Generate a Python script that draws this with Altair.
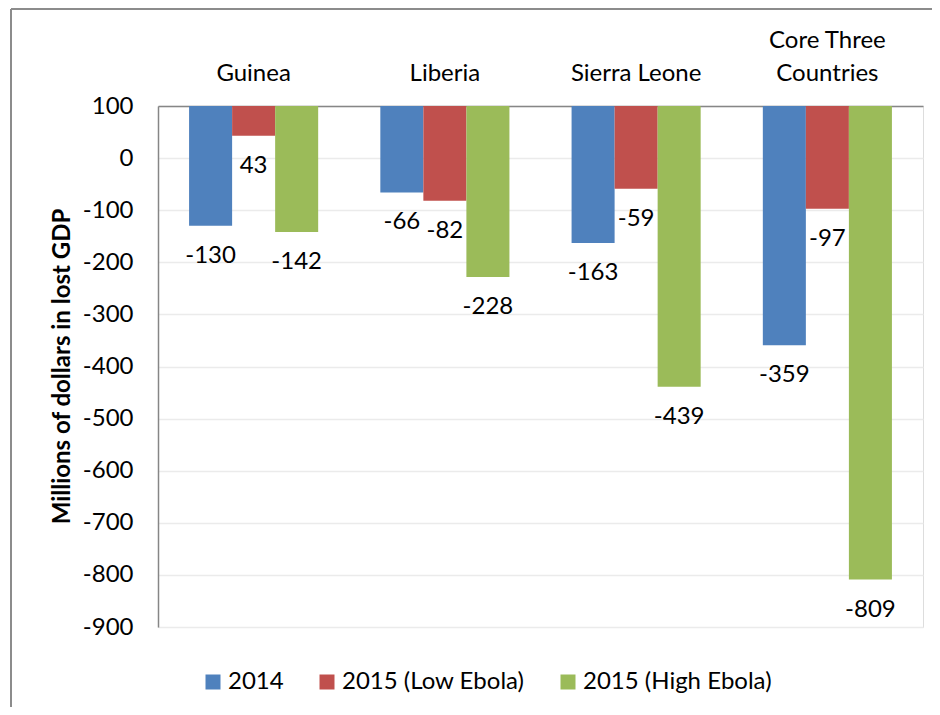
import altair as alt
import pandas as pd

countries = ["Guinea", "Liberia", "Sierra Leone", "Core Three Countries"]
series = ["2014", "2015 (Low Ebola)", "2015 (High Ebola)"]
v2014 = [-130, -66, -163, -359]
v2015_low = [43, -82, -59, -97]
v2015_high = [-142, -228, -439, -809]
colors = ["#4F81BD", "#C0504D", "#9BBB59"]
y_ticks = [100, 0, -100, -200, -300, -400, -500, -600, -700, -800, -900]

rows = []
for i, c in enumerate(countries):
    for s, vals in zip(series, [v2014, v2015_low, v2015_high]):
        rows.append({"country": c, "series": s, "value": vals[i], "label": str(vals[i])})
df = pd.DataFrame(rows)

FONT = "Lato"
W, H = 765, 521

xenc = alt.X(
    "country:N",
    sort=countries,
    scale=alt.Scale(paddingInner=0.325, paddingOuter=0.1625),
    axis=alt.Axis(
        orient="top", title=None, ticks=False, labelAngle=0,
        labelFont=FONT, labelFontSize=24, labelColor="#000000",
        labelPadding=54, labelLineHeight=33,
        labelExpr="datum.value == 'Core Three Countries' ? ['Core Three', 'Countries'] : ['', datum.value]",
        domainColor="#868686", domainWidth=1.5, grid=False,
    ),
)
yscale = alt.Scale(domain=[-900, 100], nice=False, zero=False)
xoff = alt.XOffset("series:N", sort=series)

bars = alt.Chart(df).mark_bar().encode(
    x=xenc,
    xOffset=xoff,
    y=alt.Y(
        "value:Q", scale=yscale,
        axis=alt.Axis(
            values=y_ticks, ticks=False, title="Millions of dollars in lost GDP",
            labelExpr="toString(datum.value)",
            labelFont=FONT, labelFontSize=24, labelColor="#000000", labelPadding=25,
            titleFont=FONT, titleFontSize=24, titleFontWeight="bold", titleColor="#000000",
            titleX=-96, titleY=260, titleBaseline="middle", titleAngle=270,
            domainColor="#868686", domainWidth=1.5,
            gridColor="#EBEBEB", gridWidth=1.5,
        ),
    ),
    y2=alt.datum(100),
    color=alt.Color(
        "series:N", sort=series,
        scale=alt.Scale(domain=series, range=colors),
        legend=alt.Legend(
            title=None, orient="none", direction="horizontal",
            legendX=43, legendY=564,
            symbolType="square", symbolSize=225, symbolStrokeWidth=0,
            labelFont=FONT, labelFontSize=24, labelColor="#000000", labelLimit=0,
            labelOffset=3, columnPadding=31,
        ),
    ),
)

labels = alt.Chart(df).mark_text(
    font=FONT, fontSize=24, color="#000000", baseline="middle", dy=30
).encode(
    x=alt.X("country:N", sort=countries),
    xOffset=xoff,
    y=alt.Y("value:Q", scale=yscale),
    text=alt.Text("label:N"),
)

border_top = alt.Chart(df).mark_rule(color="#8C8C8C", strokeWidth=1.5).encode(
    x=alt.value(-147), x2=alt.value(800), y=alt.value(-97)
)
border_left = alt.Chart(df).mark_rule(color="#8C8C8C", strokeWidth=1.5).encode(
    x=alt.value(-147), y=alt.value(-97), y2=alt.value(620)
)

chart = alt.layer(bars, labels, border_top, border_left).properties(
    width=W, height=H,
    autosize=alt.AutoSizeParams(type="none"),
    padding={"left": 150, "top": 98, "right": 9, "bottom": 80},
).configure_view(stroke=None).configure(background="#FFFFFF")

chart.save("out.html", embed_options={"renderer": "svg", "actions": False})
